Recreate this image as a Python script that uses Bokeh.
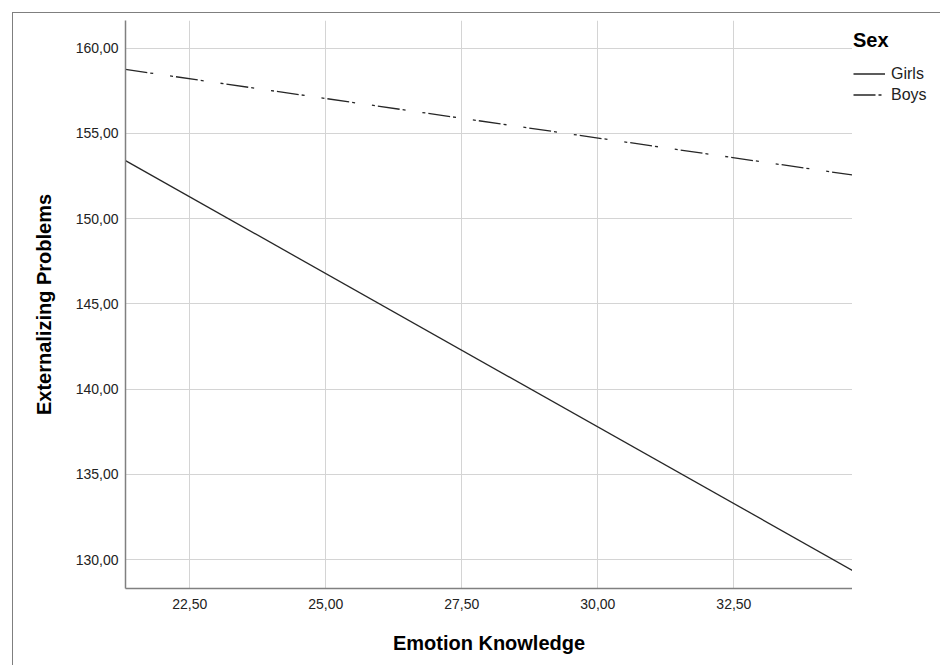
from bokeh.plotting import figure
from bokeh.layouts import row
from bokeh.models import Range1d, FixedTicker, Legend, LegendItem
from bokeh.embed import file_html
from bokeh.resources import INLINE

# ---- data ----
x_knowledge = [21.32, 34.68]          # Emotion Knowledge (range of the fitted lines)
girls_ext = [153.40, 129.37]          # Externalizing Problems, Girls
boys_ext = [158.75, 152.56]           # Externalizing Problems, Boys
series_names = ["Girls", "Boys"]
legend_title = "Sex"

x_ticks = [22.5, 25, 27.5, 30, 32.5]
x_tick_labels = ["22,50", "25,00", "27,50", "30,00", "32,50"]
y_ticks = [130, 135, 140, 145, 150, 155, 160]
y_tick_labels = ["130,00", "135,00", "140,00", "145,00", "150,00", "155,00", "160,00"]
x_limits = [21.32, 34.68]
y_limits = [128.31, 161.62]

FONT = "Liberation Sans"
LINE_COL = "#262626"
DASH = "22 3 3 17 3 3"
H = 652

p = figure(width=839, height=H, output_backend="svg", toolbar_location=None,
           x_range=Range1d(*x_limits), y_range=Range1d(*y_limits),
           min_border_left=112, min_border_right=0, min_border_top=7,
           min_border_bottom=77)
p.outline_line_color = None
p.background_fill_color = "white"
p.border_fill_color = "white"

p.xaxis.ticker = FixedTicker(ticks=x_ticks)
p.yaxis.ticker = FixedTicker(ticks=y_ticks)
p.xgrid.ticker = FixedTicker(ticks=x_ticks)
p.ygrid.ticker = FixedTicker(ticks=y_ticks)
p.xaxis.major_label_overrides = dict(zip(x_ticks, x_tick_labels))
p.yaxis.major_label_overrides = dict(zip(y_ticks, y_tick_labels))
p.xaxis.axis_label = "Emotion Knowledge"
p.yaxis.axis_label = "Externalizing Problems"

for ax in (p.xaxis[0], p.yaxis[0]):
    ax.axis_line_color = "#808080"
    ax.axis_line_width = 1.5
    ax.major_tick_line_color = None
    ax.minor_tick_line_color = None
    ax.major_tick_out = 0
    ax.major_tick_in = 0
    ax.major_label_text_font = FONT
    ax.major_label_text_font_size = "14px"
    ax.major_label_text_color = "#222222"
    ax.axis_label_text_font = FONT
    ax.axis_label_text_font_size = "20px"
    ax.axis_label_text_font_style = "bold"
    ax.axis_label_text_color = "#000000"

p.xaxis.major_label_standoff = 10
p.xaxis.axis_label_standoff = 20
p.yaxis.major_label_standoff = 7
p.yaxis.axis_label_standoff = 18

p.grid.grid_line_color = "#d4d4d4"
p.grid.grid_line_width = 1

p.line(x_knowledge, girls_ext, line_color=LINE_COL, line_width=1.3)
p.line(x_knowledge, boys_ext, line_color=LINE_COL, line_width=1.3, line_dash=DASH)

# ---- legend panel (separate narrow figure to the right of the plot) ----
# Its renderers carry the same series; their data lies outside this panel's
# view, so only the legend samples are visible here.
lp = figure(width=88, height=H, output_backend="svg", toolbar_location=None,
            x_axis_type=None, y_axis_type=None, min_border=0,
            x_range=Range1d(0, 1), y_range=Range1d(0, 1))
lp.outline_line_color = None
lp.background_fill_color = "white"
lp.border_fill_color = "white"
lg_g = lp.line(x_knowledge, girls_ext, line_color=LINE_COL, line_width=1.3)
lg_b = lp.line(x_knowledge, boys_ext, line_color=LINE_COL, line_width=1.3, line_dash=DASH)

legend = Legend(items=[LegendItem(label=series_names[0], renderers=[lg_g]),
                       LegendItem(label=series_names[1], renderers=[lg_b])],
                title=legend_title, location=(1, 484))
legend.title_text_font = FONT
legend.title_text_font_size = "20px"
legend.title_text_font_style = "bold"
legend.title_text_color = "#000000"
legend.title_standoff = 12
legend.label_text_font = FONT
legend.label_text_font_size = "16px"
legend.label_text_color = "#222222"
legend.glyph_width = 32
legend.glyph_height = 19
legend.label_height = 19
legend.label_standoff = 6
legend.spacing = 2
legend.padding = 1
legend.margin = 0
legend.border_line_color = None
legend.background_fill_alpha = 0
lp.add_layout(legend, "center")

layout = row(p, lp, spacing=0)
layout.styles = {"margin-left": "12px", "margin-top": "12px",
                 "border-left": "1px solid #7f7f7f", "border-top": "1px solid #7f7f7f"}

open("out.html", "w").write(file_html(layout, INLINE))
